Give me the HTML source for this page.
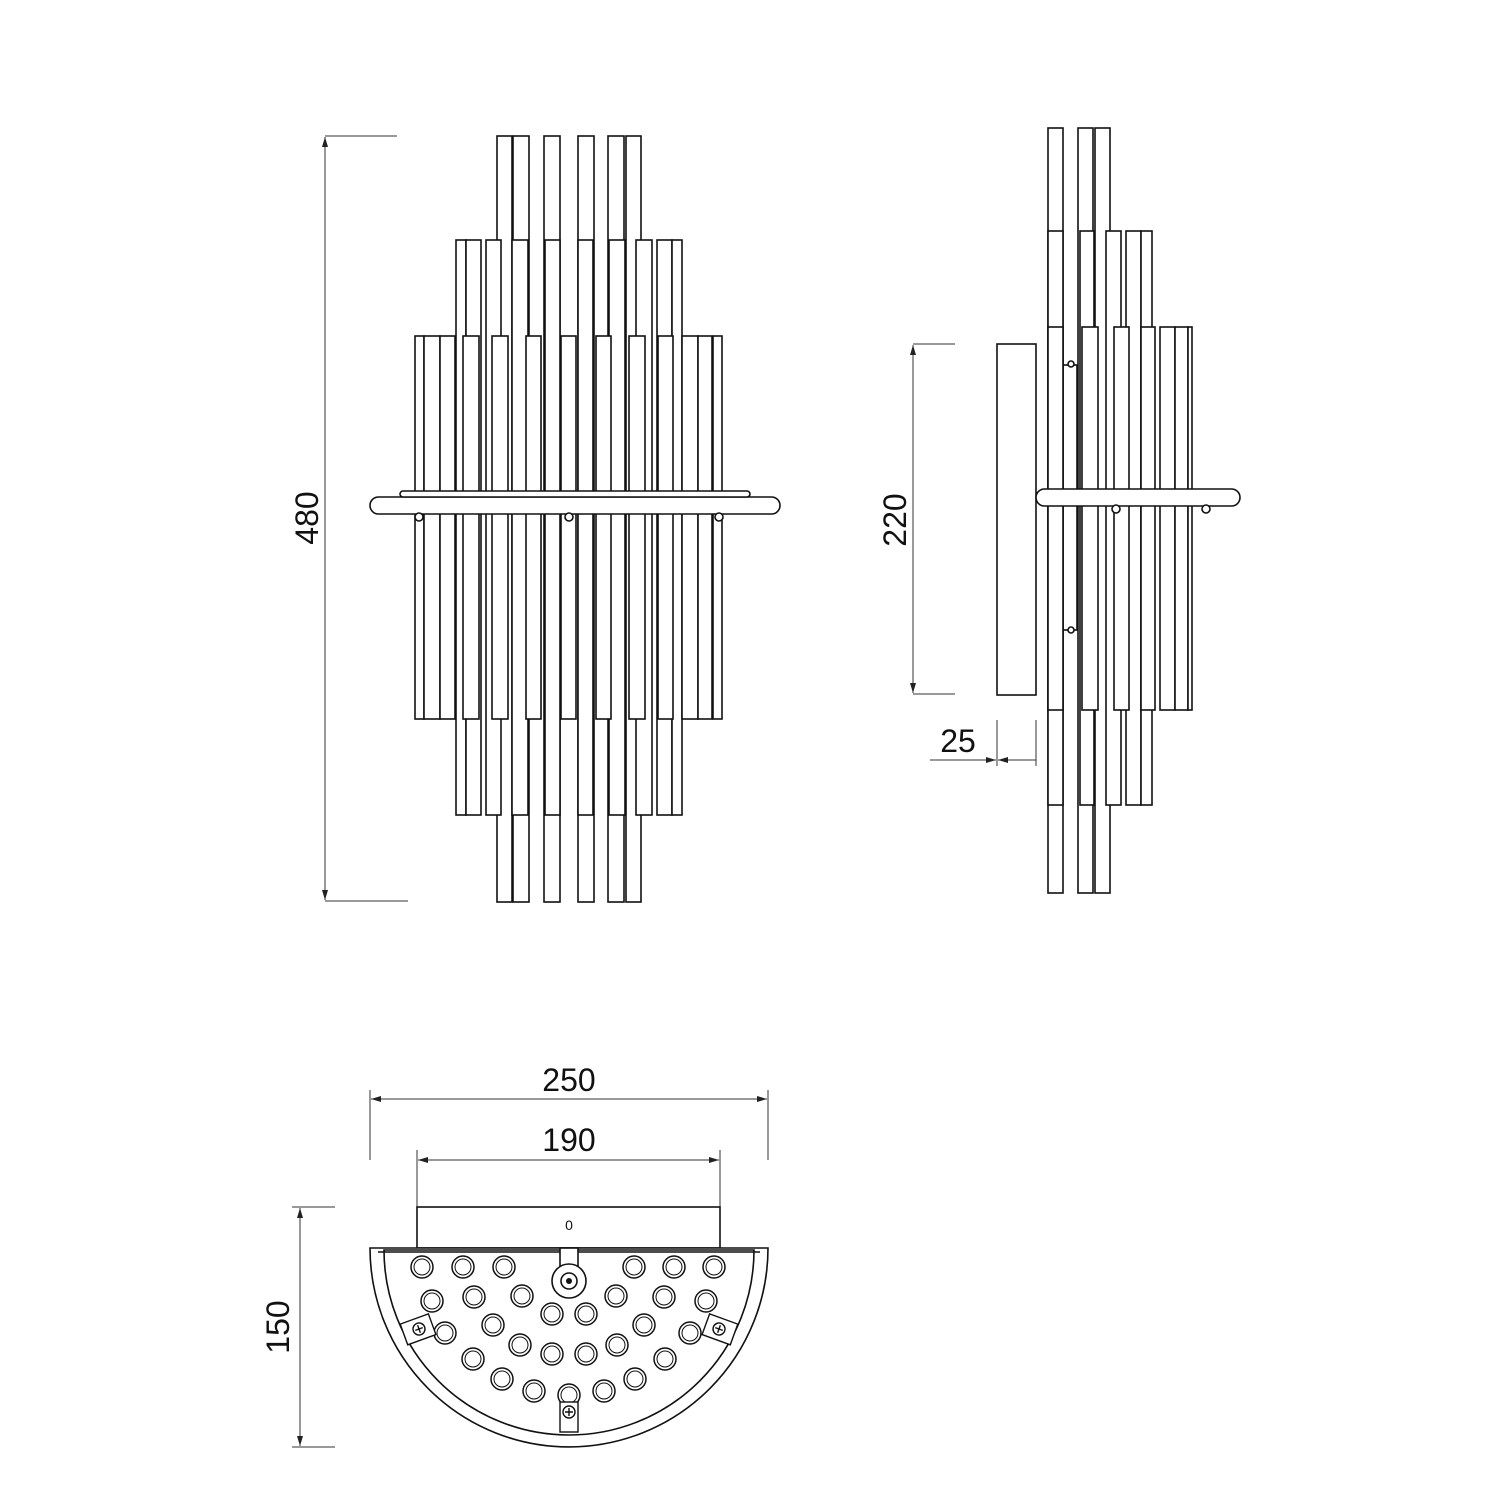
<!DOCTYPE html>
<html><head><meta charset="utf-8"><style>html,body{margin:0;padding:0;background:#fff}svg{display:block}text{font-family:"Liberation Sans",sans-serif;font-size:30px;fill:#111}</style></head>
<body>
<svg width="1500" height="1500" viewBox="0 0 1500 1500" xmlns="http://www.w3.org/2000/svg">
<defs><marker id="a" viewBox="0 0 10 10" refX="10" refY="5" markerWidth="10" markerHeight="10" orient="auto-start-reverse" markerUnits="userSpaceOnUse"><path d="M0,2 L10,5 L0,8 z" fill="#222"/></marker></defs>
<g fill="#fff" stroke="#111" stroke-width="1.6">
<!-- front view top tier -->
<rect x="497" y="136" width="15" height="766"/><rect x="513" y="136" width="16" height="766"/><rect x="544" y="136" width="16" height="766"/><rect x="578" y="136" width="16" height="766"/><rect x="608" y="136" width="16" height="766"/><rect x="626" y="136" width="15" height="766"/>
<!-- mid tier -->
<rect x="456" y="240" width="10" height="575"/><rect x="466" y="240" width="15" height="575"/><rect x="486" y="240" width="15" height="575"/><rect x="512" y="240" width="16" height="575"/><rect x="545" y="240" width="15" height="575"/><rect x="578" y="240" width="15" height="575"/><rect x="609" y="240" width="16" height="575"/><rect x="636" y="240" width="16" height="575"/><rect x="657" y="240" width="15" height="575"/><rect x="672" y="240" width="10" height="575"/>
<!-- front tier -->
<rect x="415" y="336" width="9" height="383"/><rect x="424" y="336" width="16" height="383"/><rect x="440" y="336" width="15" height="383"/><rect x="463" y="336" width="16" height="383"/><rect x="492" y="336" width="16" height="383"/><rect x="526" y="336" width="15" height="383"/><rect x="561" y="336" width="15" height="383"/><rect x="596" y="336" width="15" height="383"/><rect x="629" y="336" width="16" height="383"/><rect x="658" y="336" width="15" height="383"/><rect x="682" y="336" width="16" height="383"/><rect x="698" y="336" width="14" height="383"/><rect x="713" y="336" width="9" height="383"/>
<rect x="370" y="497" width="410" height="17" rx="8.5"/>
<rect x="400" y="491" width="350" height="6" rx="3"/>
<circle cx="419" cy="517" r="4"/><circle cx="569" cy="517" r="4"/><circle cx="719" cy="517" r="4"/>
<!-- side view -->
<rect x="997" y="344" width="39" height="351"/>
<rect x="1048" y="128" width="15" height="765"/><rect x="1078" y="128" width="15" height="765"/><rect x="1095" y="128" width="15" height="765"/>
<rect x="1063" y="365" width="14" height="265"/>
<rect x="1048" y="231" width="15" height="574"/><rect x="1080" y="231" width="14" height="574"/><rect x="1106" y="231" width="15" height="574"/><rect x="1126" y="231" width="15" height="574"/><rect x="1141" y="231" width="11" height="574"/>
<rect x="1048" y="327" width="15" height="383"/><rect x="1082" y="327" width="16" height="383"/><rect x="1114" y="327" width="15" height="383"/><rect x="1141" y="327" width="14" height="383"/><rect x="1160" y="327" width="15" height="383"/><rect x="1175" y="327" width="13" height="383"/><rect x="1188" y="327" width="4" height="383"/>
<rect x="1036" y="489" width="204" height="17" rx="8.5"/>
<circle cx="1116" cy="509" r="4"/><circle cx="1206" cy="509" r="4"/><circle cx="1071" cy="364" r="3"/><circle cx="1071" cy="630" r="3"/>
</g>
<!-- dimensions -->
<g stroke="#333" stroke-width="1" fill="none">
<line x1="325" y1="136" x2="397" y2="136"/><line x1="325" y1="901" x2="408" y2="901"/>
<line x1="325" y1="137" x2="325" y2="900" marker-start="url(#a)" marker-end="url(#a)"/>
<line x1="913" y1="344" x2="955" y2="344"/><line x1="913" y1="694" x2="955" y2="694"/>
<line x1="913" y1="345" x2="913" y2="693" marker-start="url(#a)" marker-end="url(#a)"/>
<line x1="997" y1="720" x2="997" y2="766"/><line x1="1036" y1="720" x2="1036" y2="766"/>
<line x1="930" y1="760" x2="996" y2="760" marker-end="url(#a)"/><line x1="1036" y1="760" x2="998" y2="760" marker-end="url(#a)"/>
<line x1="370" y1="1090" x2="370" y2="1160"/><line x1="768" y1="1090" x2="768" y2="1160"/>
<line x1="371" y1="1099" x2="767" y2="1099" marker-start="url(#a)" marker-end="url(#a)"/>
<line x1="417" y1="1150" x2="417" y2="1207"/><line x1="720" y1="1150" x2="720" y2="1207"/>
<line x1="418" y1="1160" x2="719" y2="1160" marker-start="url(#a)" marker-end="url(#a)"/>
<line x1="292" y1="1207" x2="335" y2="1207"/><line x1="292" y1="1447" x2="335" y2="1447"/>
<line x1="300" y1="1208" x2="300" y2="1446" marker-start="url(#a)" marker-end="url(#a)"/>
</g>
<text transform="translate(318,518) rotate(-90)" text-anchor="middle" style="font-size:32px">480</text>
<text transform="translate(906,520) rotate(-90)" text-anchor="middle" style="font-size:32px">220</text>
<text x="958" y="752" text-anchor="middle" style="font-size:32px">25</text>
<text x="569" y="1091" text-anchor="middle" style="font-size:32px">250</text>
<text x="569" y="1151" text-anchor="middle" style="font-size:32px">190</text>
<text transform="translate(289,1327) rotate(-90)" text-anchor="middle" style="font-size:32px">150</text>
<!-- bottom view -->
<g fill="#fff" stroke="#111" stroke-width="1.6">
<rect x="417" y="1207" width="303" height="41"/>
<path d="M370,1248 L768,1248 A199,199 0 0 1 370,1248 Z"/>
<path d="M384,1250 L754,1250 A185,185 0 0 1 384,1250 Z"/>
<line x1="378" y1="1252" x2="760" y2="1252"/>
<rect x="560" y="1248" width="18" height="22"/>
<circle cx="569" cy="1281" r="17"/><circle cx="569" cy="1281" r="8"/>
</g>
<circle cx="569" cy="1281" r="3" fill="#111"/>
<g fill="none" stroke="#111" stroke-width="1.5">
<g id="h">
<circle cx="422" cy="1267" r="11"/><circle cx="463" cy="1267" r="11"/><circle cx="504" cy="1267" r="11"/><circle cx="634" cy="1267" r="11"/><circle cx="674" cy="1267" r="11"/><circle cx="714" cy="1267" r="11"/>
<circle cx="432" cy="1301" r="11"/><circle cx="474" cy="1297" r="11"/><circle cx="522" cy="1296" r="11"/><circle cx="616" cy="1296" r="11"/><circle cx="664" cy="1297" r="11"/><circle cx="706" cy="1301" r="11"/>
<circle cx="552" cy="1314" r="11"/><circle cx="586" cy="1314" r="11"/>
<circle cx="445" cy="1333" r="11"/><circle cx="493" cy="1325" r="11"/><circle cx="644" cy="1325" r="11"/><circle cx="690" cy="1333" r="11"/>
<circle cx="520" cy="1345" r="11"/><circle cx="617" cy="1345" r="11"/>
<circle cx="552" cy="1354" r="11"/><circle cx="586" cy="1354" r="11"/>
<circle cx="473" cy="1359" r="11"/><circle cx="665" cy="1359" r="11"/>
<circle cx="502" cy="1379" r="11"/><circle cx="635" cy="1379" r="11"/>
<circle cx="534" cy="1391" r="11"/><circle cx="569" cy="1395" r="11"/><circle cx="604" cy="1391" r="11"/>
</g>
</g>
<g fill="none" stroke="#111" stroke-width="1.2" transform="translate(0,0)">
<use href="#h" transform="translate(0,0)" style="display:none"/>
</g>
<g fill="none" stroke="#111" stroke-width="1">
<circle cx="422" cy="1267" r="8"/><circle cx="463" cy="1267" r="8"/><circle cx="504" cy="1267" r="8"/><circle cx="634" cy="1267" r="8"/><circle cx="674" cy="1267" r="8"/><circle cx="714" cy="1267" r="8"/>
<circle cx="432" cy="1301" r="8"/><circle cx="474" cy="1297" r="8"/><circle cx="522" cy="1296" r="8"/><circle cx="616" cy="1296" r="8"/><circle cx="664" cy="1297" r="8"/><circle cx="706" cy="1301" r="8"/>
<circle cx="552" cy="1314" r="8"/><circle cx="586" cy="1314" r="8"/>
<circle cx="445" cy="1333" r="8"/><circle cx="493" cy="1325" r="8"/><circle cx="644" cy="1325" r="8"/><circle cx="690" cy="1333" r="8"/>
<circle cx="520" cy="1345" r="8"/><circle cx="617" cy="1345" r="8"/>
<circle cx="552" cy="1354" r="8"/><circle cx="586" cy="1354" r="8"/>
<circle cx="473" cy="1359" r="8"/><circle cx="665" cy="1359" r="8"/>
<circle cx="502" cy="1379" r="8"/><circle cx="635" cy="1379" r="8"/>
<circle cx="534" cy="1391" r="8"/><circle cx="569" cy="1395" r="8"/><circle cx="604" cy="1391" r="8"/>
</g>
<g fill="#fff" stroke="#111" stroke-width="1.4">
<g transform="translate(419,1329) rotate(-20)"><rect x="-16" y="-11" width="30" height="22"/><circle cx="0" cy="0" r="6"/><path d="M-4,0 H4 M0,-4 V4"/></g>
<g transform="translate(719,1329) rotate(20)"><rect x="-14" y="-11" width="30" height="22"/><circle cx="0" cy="0" r="6"/><path d="M-4,0 H4 M0,-4 V4"/></g>
<g transform="translate(569,1418)"><rect x="-9" y="-16" width="18" height="30"/><circle cx="0" cy="-6" r="6"/><path d="M-4,-6 H4 M0,-10 V-2"/></g>
</g>
<text x="569" y="1230" text-anchor="middle" style="font-size:14px">0</text>
</svg>
</body></html>
